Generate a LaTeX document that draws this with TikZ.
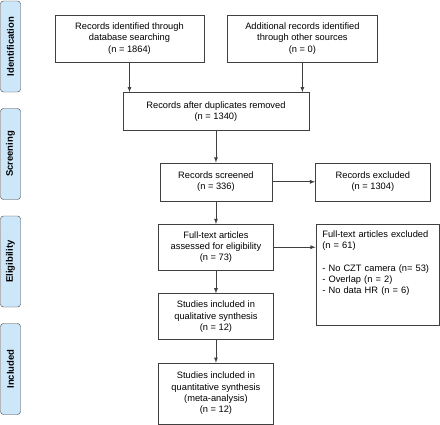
\documentclass[tikz,border=0pt]{standalone}
\usepackage{fontspec}
\setmainfont{Liberation Sans}
\usetikzlibrary{arrows,positioning,calc}
\definecolor{phaseblue}{HTML}{CDE7FA}
\definecolor{edge}{HTML}{404040}

\begin{document}
\begin{tikzpicture}[x=1pt, y=1pt, >=latex,
  box/.style={draw=edge, fill=white, align=center, inner sep=2pt,
    font=\fontsize{9.3}{11.3}\selectfont},
  phase/.style={draw=edge, fill=phaseblue, rounded corners=3pt, rotate=90,
    minimum width=91pt, minimum height=20pt, inner sep=0pt,
    font=\fontsize{9.5}{11}\selectfont\bfseries},
  flow/.style={->, draw=edge, line width=0.8pt}]
\useasboundingbox (0,0) rectangle (440,-424);

% phases
\node[phase] (ident) at (10.5,-46.5) {Identification};
\node[phase] (screen) at (10.5,-154) {Screening};
\node[phase] (elig) at (10.5,-261.5) {Eligibility};
\node[phase] (incl) at (10.5,-369) {Included};

% boxes
\node[box, minimum width=149pt, minimum height=47pt] (db) at (129.5,-38.5) {Records identified through\\database searching\\(n = 1864)};
\node[box, minimum width=150pt, minimum height=47pt, right=23pt of db] (other) {Additional records identified\\through other sources\\(n = 0)};
\coordinate (mid) at ($(db.south)!0.5!(other.south)$);
\node[box, minimum width=186pt, minimum height=38pt, below=30pt of mid] (dup) {Records after duplicates removed\\(n = 1340)};
\node[box, minimum width=112pt, minimum height=38pt, below=32pt of dup] (screened) {Records screened\\(n = 336)};
\node[box, minimum width=115pt, minimum height=38pt, right=43pt of screened] (excluded) {Records excluded\\(n = 1304)};
\node[box, minimum width=115pt, minimum height=46pt, below=23pt of screened] (fulltext) {Full-text articles\\assessed for eligibility\\(n = 73)};
\node[box, align=left, text width=110pt, inner xsep=6.5pt, inner ysep=5pt, text height=8pt, text depth=83pt,
  right=42pt of fulltext.north east, anchor=north west] (ftexcl) {Full-text articles excluded\\(n = 61)\\[11.3pt]- No CZT camera (n= 53)\\- Overlap (n = 2)\\- No data HR (n = 6)};
\node[box, minimum width=115pt, minimum height=46pt, below=23pt of fulltext] (qual) {Studies included in\\qualitative synthesis\\(n = 12)};
\node[box, minimum width=115pt, minimum height=61pt, below=23pt of qual] (quant) {Studies included in\\quantitative synthesis\\(meta-analysis)\\(n = 12)};

% arrows
\draw[flow] (db) -- (db |- dup.north);
\draw[flow] (other) -- (other |- dup.north);
\draw[flow] (dup) -- (screened);
\draw[flow] (screened) -- (excluded);
\draw[flow] (screened) -- (fulltext);
\draw[flow] (fulltext.east) -- (fulltext.east -| ftexcl.west);
\draw[flow] (fulltext) -- (qual);
\draw[flow] (qual) -- (quant);
\end{tikzpicture}
\end{document}
